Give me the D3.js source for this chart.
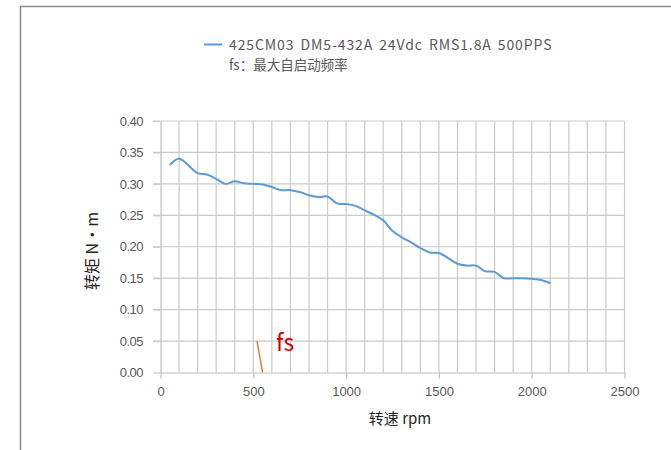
<!DOCTYPE html>
<html><head><meta charset="utf-8">
<script src="https://cdn.jsdelivr.net/npm/d3@7"></script>
<style>
html,body{margin:0;padding:0;background:#fff;}
svg{display:block;font-family:"Noto Sans CJK SC","Noto Sans",sans-serif;}
</style></head>
<body>
<svg id="chart" width="671" height="450"></svg>
<script>
const speedRpm = [50,100,200,250,300,350,400,450,500,550,600,650,700,750,800,850,900,950,1000,1050,1100,1150,1200,1250,1300,1350,1400,1450,1500,1550,1600,1650,1700,1750,1800,1850,1900,1950,2000,2050,2100];
const torqueNm = [0.330,0.340,0.317,0.315,0.308,0.300,0.304,0.301,0.300,0.299,0.295,0.290,0.290,0.287,0.282,0.279,0.280,0.269,0.268,0.265,0.258,0.251,0.242,0.225,0.215,0.207,0.198,0.191,0.190,0.182,0.173,0.170,0.170,0.161,0.160,0.150,0.150,0.150,0.149,0.147,0.142];
const fsRpm = [520,550];
const fsTorque = [0.05,0];
const xTicks = [0,500,1000,1500,2000,2500];
const yTicks = [0,0.05,0.10,0.15,0.20,0.25,0.30,0.35,0.40];
const legendLines = ["425CM03 DM5-432A 24Vdc RMS1.8A 500PPS","fs：最大自启动频率"];
const xTitle = "转速 rpm";
const yTitle = "转矩  N·m";
const fsLabel = "fs";

const svg = d3.select("#chart");
// outer frame
svg.append("path").attr("d","M20.5,451 L20.5,6.5 L672,6.5")
  .attr("fill","none").attr("stroke","#8a8a8a").attr("stroke-width",1.5);

const x = d3.scaleLinear().domain([0,2500]).range([160.5,624.5]);
const y = d3.scaleLinear().domain([0,0.4]).range([372.5,121]);

const grid = svg.append("g");
grid.selectAll("line.v").data(d3.range(100,2501,100)).join("line")
  .attr("x1",d=>x(d)).attr("x2",d=>x(d)).attr("y1",y(0.4)).attr("y2",y(0))
  .attr("stroke","#cacaca").attr("stroke-width",1.2);
grid.selectAll("line.h").data(yTicks.slice(1)).join("line")
  .attr("x1",153).attr("x2",x(2500)).attr("y1",d=>y(d)).attr("y2",d=>y(d))
  .attr("stroke","#cacaca").attr("stroke-width",1.2);

const xAxis = d3.axisBottom(x).tickValues(xTicks).tickSize(6).tickSizeOuter(0).tickPadding(8).tickFormat(d3.format("d"));
const gx = svg.append("g").attr("transform",`translate(0,${y(0)})`).call(xAxis);
gx.select(".domain").attr("stroke","#bfbfbf").attr("stroke-width",1.2);
gx.selectAll(".tick line").attr("stroke","#bfbfbf").attr("stroke-width",1.2);
gx.selectAll("text").attr("fill","#595959").attr("font-size",13);

const yAxis = d3.axisLeft(y).tickValues(yTicks).tickSize(7.5).tickSizeOuter(0).tickPadding(10).tickFormat(d3.format(".2f"));
const gy = svg.append("g").attr("transform",`translate(${x(0)},0)`).call(yAxis);
gy.select(".domain").attr("stroke","#bfbfbf").attr("stroke-width",1.2);
gy.selectAll(".tick line").attr("stroke","#cacaca").attr("stroke-width",1.2);
gy.selectAll("text").attr("fill","#595959").attr("font-size",13).attr("letter-spacing","-0.5px");

const data = speedRpm.map((s,i)=>({s, t:torqueNm[i]}));
svg.append("path").datum(data)
  .attr("d", d3.line().x(d=>x(d.s)).y(d=>y(d.t)).curve(d3.curveCatmullRom.alpha(0.5)))
  .attr("fill","none").attr("stroke","#5b9bd5").attr("stroke-width",2).attr("stroke-linejoin","round");

const fsData = fsRpm.map((s,i)=>({s,t:fsTorque[i]}));
svg.append("path").datum(fsData)
  .attr("d", d3.line().x(d=>x(d.s)).y(d=>y(d.t)))
  .attr("fill","none").attr("stroke","#ed7d31").attr("stroke-width",1.5);
svg.append("text").attr("x",276).attr("y",351).text(fsLabel)
  .attr("fill","#d00000").attr("font-size",23);

svg.append("line").attr("x1",204).attr("x2",222).attr("y1",44.5).attr("y2",44.5)
  .attr("stroke","#5b9bd5").attr("stroke-width",2);
svg.append("text").attr("x",229).attr("y",49.5).text(legendLines[0])
  .attr("fill","#595959").attr("font-size",14).attr("letter-spacing","0.9px")
  .attr("word-spacing","2px");
svg.append("text").attr("x",229).attr("y",69.5).text(legendLines[1])
  .attr("fill","#595959").attr("font-size",13.5);

svg.append("text").attr("x",400).attr("y",424).attr("text-anchor","middle")
  .text(xTitle).attr("fill","#262626").attr("font-size",15);
svg.append("text").attr("transform","translate(98,251) rotate(-90)").attr("text-anchor","middle")
  .text(yTitle).attr("fill","#262626").attr("font-size",16);
</script>
</body></html>
